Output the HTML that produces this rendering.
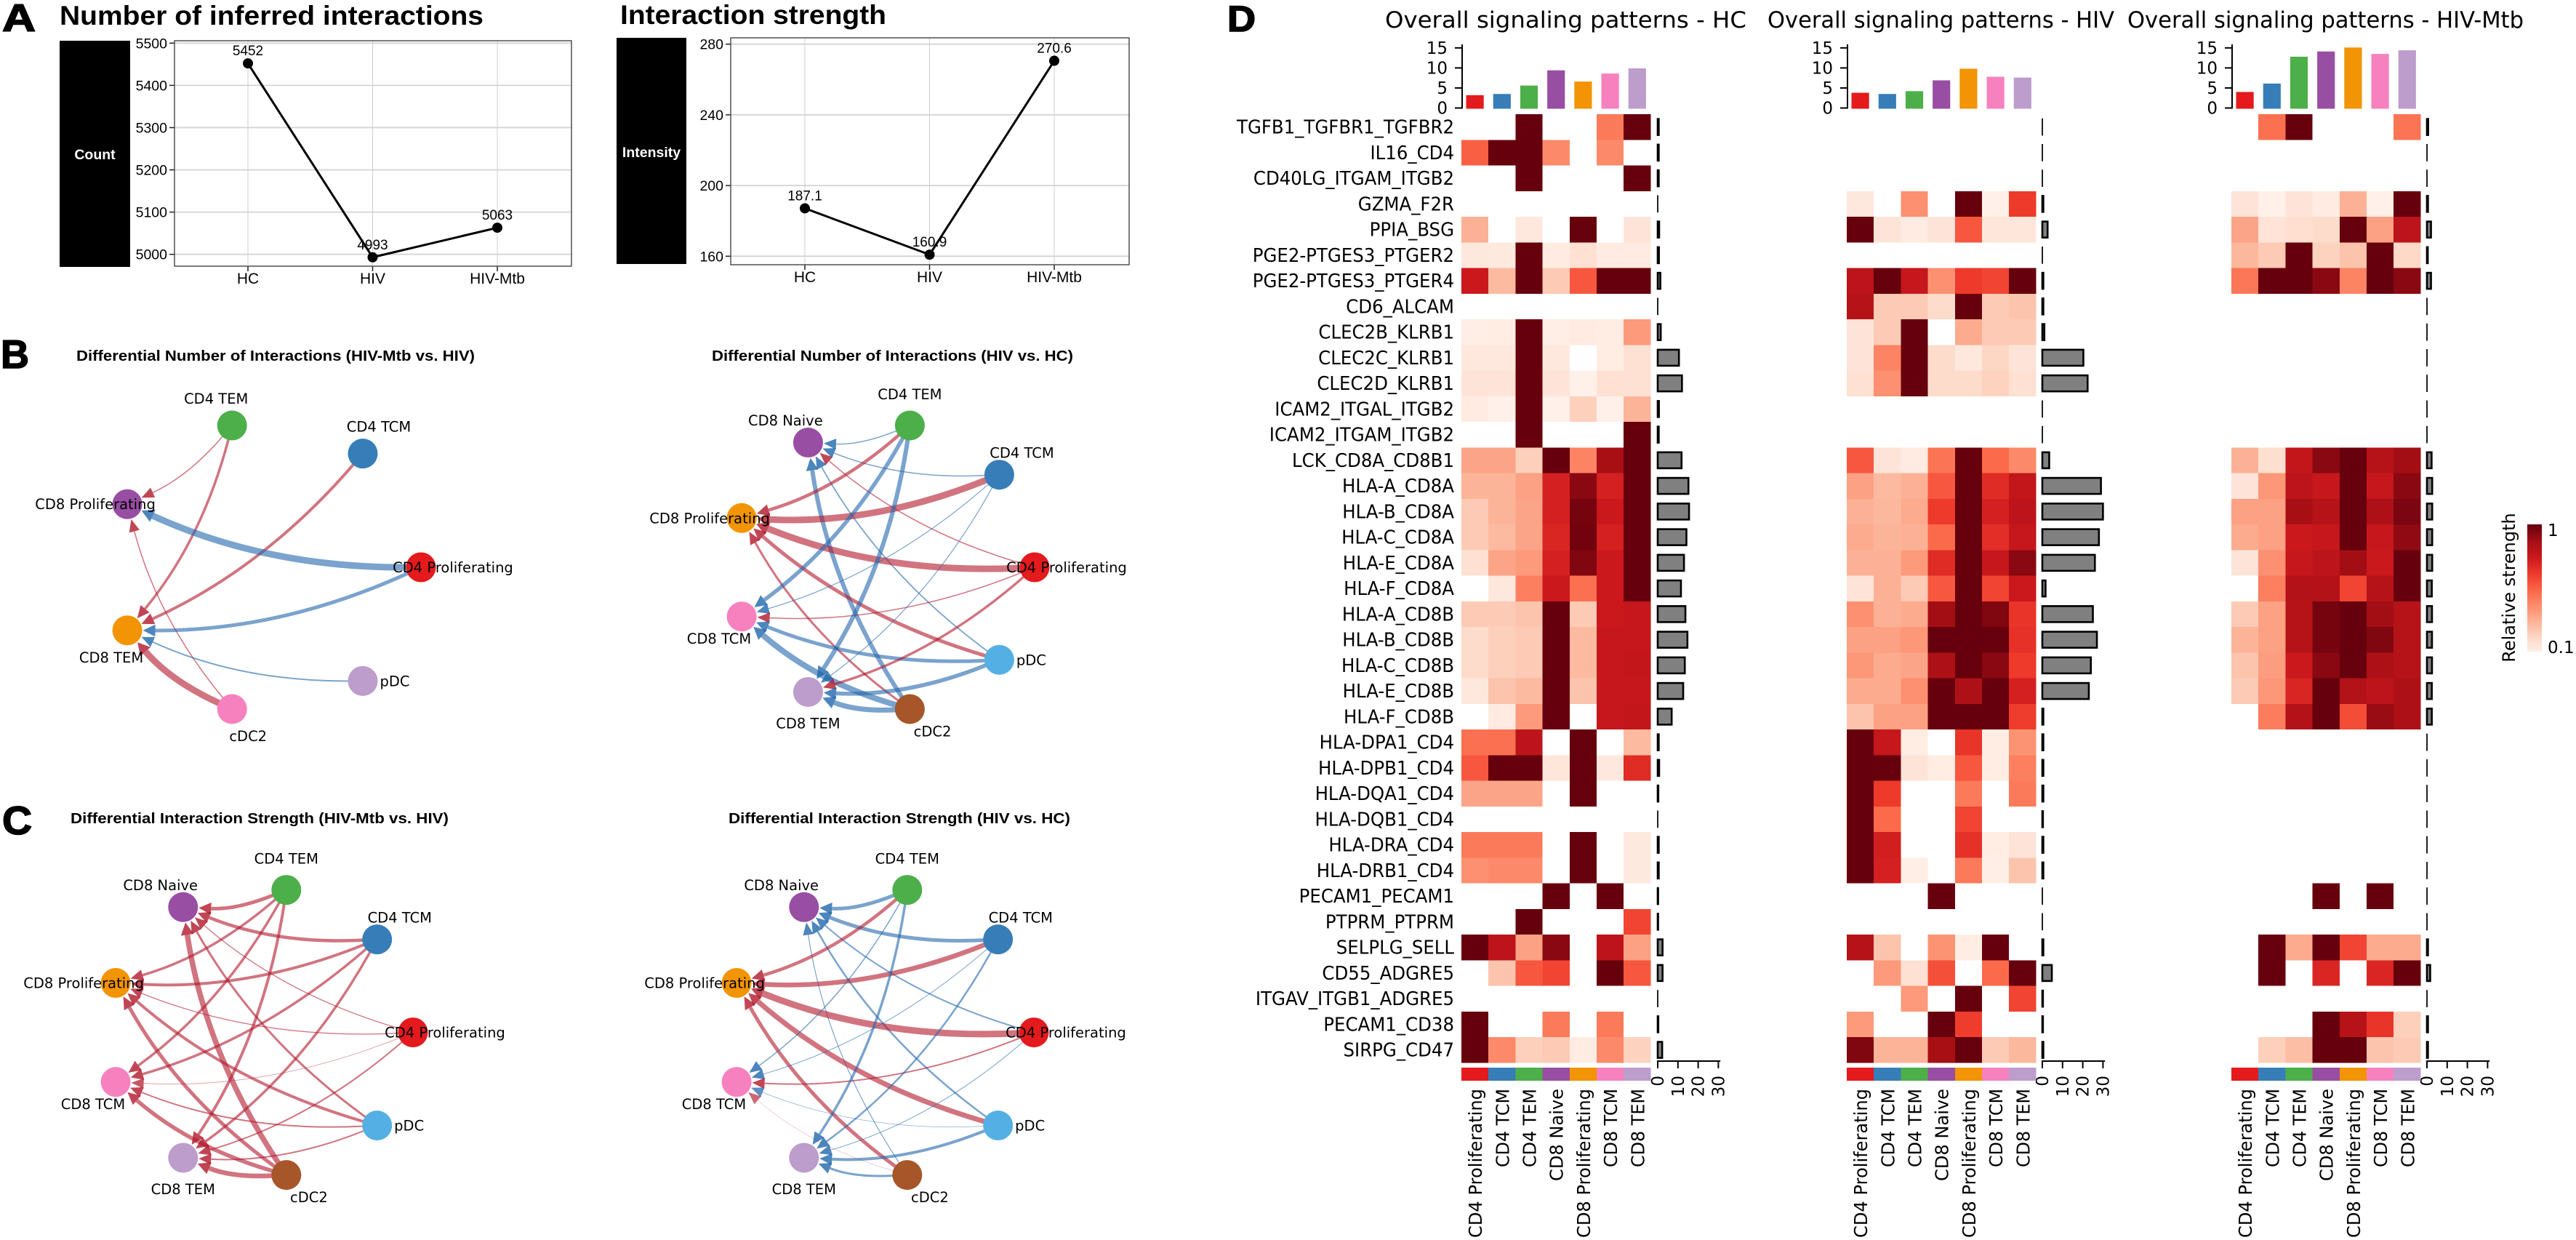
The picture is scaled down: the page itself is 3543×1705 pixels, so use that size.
<!DOCTYPE html>
<html lang="en">
<head>
<meta charset="utf-8">
<title>Cell-cell interaction figure</title>
<style>
html,body{margin:0;padding:0;background:#fff}
svg{display:block}
text{fill:#000}
.sans{font-family:"Liberation Sans",sans-serif}
.dv{font-family:"DejaVu Sans",sans-serif}
</style>
</head>
<body>
<svg id="fig" xmlns="http://www.w3.org/2000/svg" width="3543" height="1705" viewBox="0 0 3543 1705">
<defs><linearGradient id="cbGrad" x1="0" y1="1" x2="0" y2="0"></linearGradient></defs>
<rect x="0" y="0" width="3543" height="1705" fill="#fff"/>

<g class="sans" font-weight="bold">
<text x="3" y="43" font-size="53" stroke="#000" stroke-width="1.6" textLength="46" lengthAdjust="spacingAndGlyphs">A</text>
<text x="1" y="506" font-size="55" stroke="#000" stroke-width="1.6" textLength="39" lengthAdjust="spacingAndGlyphs">B</text>
<text x="3" y="1147" font-size="55" stroke="#000" stroke-width="1.6" textLength="41" lengthAdjust="spacingAndGlyphs">C</text>
<text x="1688" y="43" font-size="50" stroke="#000" stroke-width="1.6" textLength="39" lengthAdjust="spacingAndGlyphs">D</text>
</g>

<g class="sans" font-weight="bold">
<text x="82" y="34" font-size="37" textLength="583" lengthAdjust="spacingAndGlyphs">Number of inferred interactions</text>
<text x="853" y="33" font-size="37" textLength="366" lengthAdjust="spacingAndGlyphs">Interaction strength</text>
<text x="105" y="496" font-size="20.5" textLength="548" lengthAdjust="spacingAndGlyphs">Differential Number of Interactions (HIV-Mtb vs. HIV)</text>
<text x="979" y="496" font-size="20.5" textLength="497" lengthAdjust="spacingAndGlyphs">Differential Number of Interactions (HIV vs. HC)</text>
<text x="97" y="1132" font-size="20.5" textLength="520" lengthAdjust="spacingAndGlyphs">Differential Interaction Strength (HIV-Mtb vs. HIV)</text>
<text x="1002" y="1132" font-size="20.5" textLength="470" lengthAdjust="spacingAndGlyphs">Differential Interaction Strength (HIV vs. HC)</text>
</g>

<g class="dv">
<text x="1905" y="38" font-size="31" textLength="497" lengthAdjust="spacingAndGlyphs">Overall signaling patterns - HC</text>
<text x="2431" y="38" font-size="31" textLength="477" lengthAdjust="spacingAndGlyphs">Overall signaling patterns - HIV</text>
<text x="2926" y="38" font-size="31" textLength="545" lengthAdjust="spacingAndGlyphs">Overall signaling patterns - HIV-Mtb</text>
</g>

<g id="lineCharts" class="sans"></g>
<g id="networks" class="dv"></g>
<g id="heatmaps" class="dv"></g>

<g class="dv">
<rect x="3476" y="721" width="20" height="175" fill="url(#cbGrad)"/>
<text x="3504" y="737" font-size="23">1</text>
<text x="3504" y="898" font-size="23">0.1</text>
<text transform="translate(3459,808) rotate(-90)" text-anchor="middle" font-size="24">Relative strength</text>
</g>
</svg>

<script>
/* ---------- Panel A data ---------- */
const groups = ['HC', 'HIV', 'HIV-Mtb'];
const countValues = [5452, 4993, 5063];
const countLabels = ['5452', '4993', '5063'];
const countTicks = [5000, 5100, 5200, 5300, 5400, 5500];
const strengthValues = [187.1, 160.9, 270.6];
const strengthLabels = ['187.1', '160.9', '270.6'];
const strengthTicks = [160, 200, 240, 280];

/* ---------- Panel B / C data: [source, target, signed weight] (+ increased, - decreased) ---------- */
const bLeftNodes = ['CD4 Proliferating', 'CD4 TCM', 'CD4 TEM', 'CD8 Proliferating', 'CD8 TEM', 'cDC2', 'pDC'];
const bLeftEdges = [
  ['CD4 TEM', 'CD8 Proliferating', 1.5],
  ['CD4 TEM', 'CD8 TEM', 3.5],
  ['CD4 TCM', 'CD8 TEM', 4],
  ['cDC2', 'CD8 Proliferating', 1.5],
  ['pDC', 'CD8 TEM', -2],
  ['CD4 Proliferating', 'CD8 TEM', -5],
  ['CD4 Proliferating', 'CD8 Proliferating', -9],
  ['cDC2', 'CD8 TEM', 9]
];
const fullNodes = ['CD4 Proliferating', 'CD4 TCM', 'CD4 TEM', 'CD8 Naive', 'CD8 Proliferating', 'CD8 TCM', 'CD8 TEM', 'cDC2', 'pDC'];
const bRightEdges = [
  ['CD4 TEM', 'CD8 Naive', -1.5],
  ['CD4 TCM', 'CD8 Naive', -1.5],
  ['pDC', 'CD8 Naive', -1.8],
  ['cDC2', 'CD8 Naive', -6],
  ['CD4 Proliferating', 'CD8 Naive', 1.5],
  ['CD4 TEM', 'CD8 Proliferating', 4.5],
  ['CD4 TCM', 'CD8 Proliferating', 9],
  ['CD4 Proliferating', 'CD8 Proliferating', 9],
  ['pDC', 'CD8 Proliferating', 5],
  ['cDC2', 'CD8 Proliferating', 3],
  ['CD4 TEM', 'CD8 TCM', -5.5],
  ['CD4 TCM', 'CD8 TCM', -1.2],
  ['CD4 Proliferating', 'CD8 TCM', 1.5],
  ['pDC', 'CD8 TCM', -5],
  ['cDC2', 'CD8 TCM', -8],
  ['CD4 TEM', 'CD8 TEM', -6],
  ['CD4 TCM', 'CD8 TEM', -1.2],
  ['CD4 Proliferating', 'CD8 TEM', 3.5],
  ['pDC', 'CD8 TEM', -5.5],
  ['cDC2', 'CD8 TEM', -7]
];
const cLeftEdges = [
  ['CD4 TEM', 'CD8 Naive', 5],
  ['CD4 TCM', 'CD8 Naive', 4.5],
  ['CD4 Proliferating', 'CD8 Naive', 1.3],
  ['pDC', 'CD8 Naive', 3],
  ['cDC2', 'CD8 Naive', 7.5],
  ['CD4 TEM', 'CD8 Proliferating', 3.5],
  ['CD4 TCM', 'CD8 Proliferating', 4],
  ['CD4 Proliferating', 'CD8 Proliferating', 1.3],
  ['pDC', 'CD8 Proliferating', 4],
  ['cDC2', 'CD8 Proliferating', 5],
  ['CD4 TEM', 'CD8 TCM', 3.5],
  ['CD4 TCM', 'CD8 TCM', 3.5],
  ['CD4 Proliferating', 'CD8 TCM', 0.7],
  ['pDC', 'CD8 TCM', 2],
  ['cDC2', 'CD8 TCM', 5.5],
  ['CD4 TEM', 'CD8 TEM', 4],
  ['CD4 TCM', 'CD8 TEM', 3.5],
  ['CD4 Proliferating', 'CD8 TEM', 2],
  ['pDC', 'CD8 TEM', 2],
  ['cDC2', 'CD8 TEM', 6.5]
];
const cRightEdges = [
  ['CD4 TEM', 'CD8 Naive', -5],
  ['CD4 TCM', 'CD8 Naive', -5],
  ['CD4 Proliferating', 'CD8 Naive', -2],
  ['pDC', 'CD8 Naive', -2.5],
  ['cDC2', 'CD8 Naive', -1.2],
  ['CD4 TEM', 'CD8 Proliferating', 4.5],
  ['CD4 TCM', 'CD8 Proliferating', 6.5],
  ['CD4 Proliferating', 'CD8 Proliferating', 9],
  ['pDC', 'CD8 Proliferating', 7],
  ['cDC2', 'CD8 Proliferating', 5],
  ['CD4 TEM', 'CD8 TCM', -1.5],
  ['CD4 TCM', 'CD8 TCM', -1],
  ['CD4 Proliferating', 'CD8 TCM', 2],
  ['pDC', 'CD8 TCM', -0.7],
  ['cDC2', 'CD8 TCM', 0.5],
  ['CD4 TEM', 'CD8 TEM', -3.5],
  ['CD4 TCM', 'CD8 TEM', -2.5],
  ['CD4 Proliferating', 'CD8 TEM', -1],
  ['pDC', 'CD8 TEM', -4],
  ['cDC2', 'CD8 TEM', -3]
];

/* ---------- Panel D data ---------- */
const rowLabels = ['TGFB1_TGFBR1_TGFBR2','IL16_CD4','CD40LG_ITGAM_ITGB2','GZMA_F2R','PPIA_BSG','PGE2-PTGES3_PTGER2','PGE2-PTGES3_PTGER4','CD6_ALCAM','CLEC2B_KLRB1','CLEC2C_KLRB1','CLEC2D_KLRB1','ICAM2_ITGAL_ITGB2','ICAM2_ITGAM_ITGB2','LCK_CD8A_CD8B1','HLA-A_CD8A','HLA-B_CD8A','HLA-C_CD8A','HLA-E_CD8A','HLA-F_CD8A','HLA-A_CD8B','HLA-B_CD8B','HLA-C_CD8B','HLA-E_CD8B','HLA-F_CD8B','HLA-DPA1_CD4','HLA-DPB1_CD4','HLA-DQA1_CD4','HLA-DQB1_CD4','HLA-DRA_CD4','HLA-DRB1_CD4','PECAM1_PECAM1','PTPRM_PTPRM','SELPLG_SELL','CD55_ADGRE5','ITGAV_ITGB1_ADGRE5','PECAM1_CD38','SIRPG_CD47'];
const cellTypes = ['CD4 Proliferating','CD4 TCM','CD4 TEM','CD8 Naive','CD8 Proliferating','CD8 TCM','CD8 TEM'];
const topTicks = [0, 5, 10, 15];
const barTicks = [0, 10, 20, 30];
const hcTopBars = [3.2, 3.5, 5.6, 9.4, 6.6, 8.6, 9.9];
const hivTopBars = [3.8, 3.5, 4.2, 6.9, 9.8, 7.8, 7.6];
const mtbTopBars = [4, 6.1, 12.8, 14.1, 15.1, 13.5, 14.4];
const hcRowBars = [.5,.5,.5,0,.7,.6,1.3,0,1.5,10.5,12,.6,.5,11.8,15.2,15.5,14.2,13,11.5,13.7,14.7,13.4,12.6,6.9,.5,.7,.3,0,.5,.5,.2,.2,2.4,2.4,0,.3,2.2];
const hivRowBars = [0,0,0,.5,2.6,0,.5,.5,1,20.3,22.4,0,0,3.4,29,30,28,26,1.6,25,27,24,23,.5,.5,.5,.5,.3,.5,.5,0,0,.5,4.7,.3,.3,.5];
const mtbRowBars = [.6,0,0,.5,2,.4,2,0,0,0,0,0,0,2.3,2.6,2.6,2.6,2.6,2.4,2.5,2.5,2.5,2.4,2.4,0,0,0,0,0,0,0,0,.5,1.6,0,.5,.5];
const hcCells = [
[0,0,1,0,0,.45,1],
[.53,1,1,.4,0,.4,0],
[0,0,1,0,0,0,1],
[0,0,0,0,0,0,0],
[.28,0,.08,0,1,0,.1],
[.08,.07,1,.06,.12,.06,.06],
[.75,.25,1,.2,.55,1,1],
[0,0,0,0,0,0,0],
[.04,.05,1,.04,.06,.05,.35],
[.08,.08,1,.08,0,.05,.12],
[.1,.1,1,.1,.03,.12,.12],
[.06,.03,1,.03,.18,.03,.27],
[0,0,1,0,0,0,1],
[.32,.32,.18,1,.42,.87,1],
[.27,.27,.33,.72,.93,.72,1],
[.2,.27,.32,.72,.97,.75,1],
[.2,.25,.32,.7,.98,.72,1],
[.12,.32,.35,.72,.95,.75,1],
[0,.08,.43,.75,.48,.75,1],
[.2,.2,.22,1,.2,.75,.77],
[.14,.18,.2,1,.25,.77,.77],
[.14,.18,.2,1,.25,.77,.78],
[.08,.22,.25,1,.22,.77,.77],
[0,.06,.35,1,0,.77,.78],
[.48,.48,.8,0,1,0,.25],
[.55,1,1,.09,1,.08,.68],
[.32,.32,.32,0,1,0,0],
[0,0,0,0,0,0,0],
[.45,.45,.45,0,1,0,.07],
[.38,.4,.4,0,1,0,.07],
[0,0,0,1,0,1,0],
[0,0,1,0,0,0,.6],
[1,.8,.33,.93,0,.8,.33],
[0,.22,.55,.6,0,1,.55],
[0,0,0,0,0,0,0],
[1,0,0,.45,0,.45,0],
[1,.4,.18,.2,.05,.4,.17]
];
const hivCells = [
[0,0,0,0,0,0,0],
[0,0,0,0,0,0,0],
[0,0,0,0,0,0,0],
[.08,0,.38,0,1,.03,.63],
[1,.1,.06,.1,.55,.09,.09],
[0,0,0,0,0,0,0],
[.8,1,.77,.38,.63,.6,1],
[.82,.2,.2,.14,1,.2,.22],
[.1,.2,1,0,.3,.2,.2],
[.1,.42,1,.14,.08,.16,.1],
[.12,.38,1,.14,.14,.17,.12],
[0,0,0,0,0,0,0],
[0,0,0,0,0,0,0],
[.55,.1,.06,.47,1,.5,.4],
[.33,.25,.28,.55,1,.68,.78],
[.28,.26,.3,.63,1,.72,.8],
[.3,.27,.28,.5,1,.67,.77],
[.28,.28,.35,.68,1,.77,.93],
[.1,.28,.2,.55,1,.6,.75],
[.38,.28,.3,.88,1,.95,.65],
[.33,.33,.36,1,1,1,.66],
[.36,.3,.32,.85,1,.93,.63],
[.3,.3,.38,1,.85,1,.72],
[.22,.33,.33,1,1,1,.62],
[1,.77,.05,0,.65,.05,.37],
[1,1,.1,.05,.55,.05,.43],
[1,.63,0,0,.45,0,.45],
[1,.5,0,0,.6,0,0],
[1,.73,0,0,.66,.05,.1],
[1,.72,.04,0,.45,.04,.22],
[0,0,0,1,0,0,0],
[0,0,0,0,0,0,0],
[.82,.22,0,.37,.05,1,0],
[0,.35,.12,.57,0,.5,1],
[0,0,.35,0,1,0,.6],
[.35,0,0,1,.62,0,0],
[.95,.27,.27,.87,1,.2,.26]
];
const mtbCells = [
[0,.48,1,0,0,0,.47],
[0,0,0,0,0,0,0],
[0,0,0,0,0,0,0],
[.1,.03,.1,.06,.28,.03,1],
[.32,.11,.13,.14,1,.33,.8],
[.26,.2,1,.17,.22,1,.15],
[.46,1,1,.93,.42,1,.93],
[0,0,0,0,0,0,0],
[0,0,0,0,0,0,0],
[0,0,0,0,0,0,0],
[0,0,0,0,0,0,0],
[0,0,0,0,0,0,0],
[0,0,0,0,0,0,0],
[.28,.13,.78,.93,1,.82,.88],
[.1,.36,.8,.77,1,.77,.93],
[.33,.33,.87,.82,1,.85,.96],
[.3,.33,.75,.77,1,.77,.92],
[.1,.38,.77,.8,.88,.75,1],
[0,.43,.83,.83,.6,.82,1],
[.2,.33,.82,.97,1,.88,.82],
[.27,.33,.82,.97,1,.95,.82],
[.22,.34,.75,.93,1,.85,.82],
[.2,.36,.7,1,.83,.8,.85],
[0,.44,.83,1,.58,.9,.85],
[0,0,0,0,0,0,0],
[0,0,0,0,0,0,0],
[0,0,0,0,0,0,0],
[0,0,0,0,0,0,0],
[0,0,0,0,0,0,0],
[0,0,0,0,0,0,0],
[0,0,0,1,0,1,0],
[0,0,0,0,0,0,0],
[0,1,.3,1,.6,.3,.3],
[0,1,0,.7,0,.7,1],
[0,0,0,0,0,0,0],
[0,0,0,1,.82,.65,.18],
[0,.18,.24,1,1,.22,.2]
];

/* ---------- Helpers ---------- */
const NS = 'http://www.w3.org/2000/svg';
function make(tag, attrs, parent, txt) {
  const e = document.createElementNS(NS, tag);
  for (const k in attrs) e.setAttribute(k, attrs[k]);
  if (txt !== undefined) e.textContent = txt;
  parent.appendChild(e);
  return e;
}
function slug(s) { return String(s).toLowerCase().replace(/[^a-z0-9]+/g, '-'); }

/* ---------- Line charts ---------- */
function drawLineChart(cfg) {
  const root = document.getElementById('lineCharts');
  const g = make('g', {}, root);
  
  
  const xScale = i => cfg.x0 + i * cfg.dx;
  const yScale = v => cfg.yRef - (v - cfg.vRef) * cfg.k;

  const strip = make('rect', {x: cfg.sx, y: cfg.sy, width: cfg.sw, height: cfg.sh, fill: '#000'}, g);
  
  
  const yt = make('text', {x: cfg.sx + cfg.sw / 2, y: cfg.tcy + 7, 'text-anchor': 'middle', 'font-size': 19.5, 'font-weight': 'bold', style: 'fill:#fff'}, g, cfg.yTitle);
  
  

  const frame = make('rect', {x: cfg.left, y: cfg.top, width: cfg.right - cfg.left, height: cfg.bottom - cfg.top, fill: '#fff'}, g);
  
  

  cfg.ticks.forEach(t => {
    const y = yScale(t);
    const gl = make('line', {x1: cfg.left, x2: cfg.right, y1: y, y2: y, stroke: '#d4d4d4', 'stroke-width': 1.8}, g);
    
    
    const tk = make('line', {x1: cfg.left - 7, x2: cfg.left, y1: y, y2: y, stroke: '#222', 'stroke-width': 1.5}, g);
    
    
    const lb = make('text', {x: cfg.left - 10, y: y + 7, 'text-anchor': 'end', 'font-size': 19.5}, g, String(t));
    
    
  });
  groups.forEach((name, i) => {
    const x = xScale(i);
    const gl = make('line', {x1: x, x2: x, y1: cfg.top, y2: cfg.bottom, stroke: '#cfcfcf', 'stroke-width': 1}, g);
    
    
    const tk = make('line', {x1: x, x2: x, y1: cfg.bottom, y2: cfg.bottom + 7, stroke: '#222', 'stroke-width': 1.5}, g);
    
    
    const lb = make('text', {x: x, y: cfg.bottom + 24, 'text-anchor': 'middle', 'font-size': 21}, g, name);
    
    
  });
  const border = make('rect', {x: cfg.left, y: cfg.top, width: cfg.right - cfg.left, height: cfg.bottom - cfg.top, fill: 'none', stroke: '#444', 'stroke-width': 1.4}, g);
  
  

  const pts = cfg.values.map((v, i) => xScale(i) + ',' + yScale(v)).join(' ');
  const line = make('polyline', {points: pts, fill: 'none', stroke: '#000', 'stroke-width': 3}, g);
  
  
  cfg.values.forEach((v, i) => {
    const c = make('circle', {cx: xScale(i), cy: yScale(v), r: 7, fill: '#000'}, g);
    
    
    const t = make('text', {x: xScale(i), y: yScale(v) - 11, 'text-anchor': 'middle', 'font-size': 19}, g, cfg.labels[i]);
    
    
  });
}
drawLineChart({id: 'count', yTitle: 'Count', sx: 82, sy: 56, sw: 97, sh: 311, tcy: 212, left: 240, right: 786, top: 56, bottom: 366, x0: 341, dx: 171.5, yRef: 349.7, vRef: 5000, k: 0.5808, ticks: countTicks, values: countValues, labels: countLabels});
drawLineChart({id: 'strength', yTitle: 'Intensity', sx: 848, sy: 52, sw: 96, sh: 311, tcy: 209, left: 1005, right: 1553, top: 52, bottom: 364, x0: 1107, dx: 171.5, yRef: 352.3, vRef: 160, k: 2.43, ticks: strengthTicks, values: strengthValues, labels: strengthLabels});

/* ---------- Networks ---------- */
const fullColors = {'CD4 Proliferating':'#E41A1C','CD4 TCM':'#377EB8','CD4 TEM':'#4DAF4A','CD8 Naive':'#984EA3','CD8 Proliferating':'#F29403','CD8 TCM':'#F781BF','CD8 TEM':'#BC9DCC','cDC2':'#A65628','pDC':'#54B0E4'};
const reducedColors = {'CD4 Proliferating':'#E41A1C','CD4 TCM':'#377EB8','CD4 TEM':'#4DAF4A','CD8 Proliferating':'#984EA3','CD8 TEM':'#F29403','cDC2':'#F781BF','pDC':'#BC9DCC'};
const fullLabelDirs = {'CD4 Proliferating':0,'CD4 TCM':45,'CD4 TEM':90,'CD8 Naive':135,'CD8 Proliferating':180,'CD8 TCM':225,'CD8 TEM':270,'cDC2':315,'pDC':0};
const reducedLabelDirs = {'CD4 Proliferating':0,'CD4 TCM':60,'CD4 TEM':120,'CD8 Proliferating':180,'CD8 TEM':240,'cDC2':300,'pDC':0};

function drawNetwork(cfg) {
  const root = document.getElementById('networks');
  const g = make('g', {}, root);
  
  
  const R = 20.5;
  const n = cfg.nodes.length;
  const pos = {};
  cfg.nodes.forEach((name, i) => {
    const th = i * 2 * Math.PI / n;
    pos[name] = {x: cfg.cx + cfg.rx * Math.cos(th), y: cfg.cy - cfg.ry * Math.sin(th)};
  });
  cfg.edges.forEach(edge => {
    const p0 = pos[edge[0]], p1 = pos[edge[1]], w = Math.abs(edge[2]);
    const col = edge[2] > 0 ? '#b2182b' : '#2166ac';
    const alpha = w < 1 ? 0.25 + w * 0.4 : 0.6;
    const dx = p1.x - p0.x, dy = p1.y - p0.y, L = Math.hypot(dx, dy);
    const cxp = (p0.x + p1.x) / 2 + (dy / L) * 0.11 * L;
    const cyp = (p0.y + p1.y) / 2 + (-dx / L) * 0.11 * L;
    const u0x = cxp - p0.x, u0y = cyp - p0.y, u0 = Math.hypot(u0x, u0y);
    const u1x = cxp - p1.x, u1y = cyp - p1.y, u1 = Math.hypot(u1x, u1y);
    const sx = p0.x + u0x / u0 * (R - 2), sy = p0.y + u0y / u0 * (R - 2);
    const tx = p1.x + u1x / u1 * (R + 1), ty = p1.y + u1y / u1 * (R + 1);
    const al = 17, hw = 7 + w * 0.25;
    const bx = tx + u1x / u1 * al, by = ty + u1y / u1 * al;
    const path = make('path', {d: 'M' + sx + ' ' + sy + ' Q' + cxp + ' ' + cyp + ' ' + bx + ' ' + by, fill: 'none', stroke: col, 'stroke-width': w, 'stroke-opacity': alpha}, g);
    
    
    const px = -u1y / u1, py = u1x / u1;
    const head = make('polygon', {points: tx + ',' + ty + ' ' + (bx + px * hw) + ',' + (by + py * hw) + ' ' + (bx - px * hw) + ',' + (by - py * hw), fill: col, 'fill-opacity': Math.min(alpha + 0.2, 0.85)}, g);
    
    
  });
  cfg.nodes.forEach(name => {
    const c = make('circle', {cx: pos[name].x, cy: pos[name].y, r: R, fill: cfg.colors[name]}, g);
    
    
  });
  cfg.nodes.forEach(name => {
    const a = cfg.dirs[name] * Math.PI / 180;
    const x = pos[name].x + 44 * Math.cos(a), y = pos[name].y - 43 * Math.sin(a);
    const t = make('text', {x: x, y: y + 7, 'text-anchor': 'middle', 'font-size': 19.5}, g, name);
    
    
  });
}
drawNetwork({id: 'b-left', nodes: bLeftNodes, colors: reducedColors, dirs: reducedLabelDirs, edges: bLeftEdges, cx: 366.5, cy: 780, rx: 212.5, ry: 200});
drawNetwork({id: 'b-right', nodes: fullNodes, colors: fullColors, dirs: fullLabelDirs, edges: bRightEdges, cx: 1215.3, cy: 780, rx: 207.7, ry: 198});
drawNetwork({id: 'c-left', nodes: fullNodes, colors: fullColors, dirs: fullLabelDirs, edges: cLeftEdges, cx: 357.2, cy: 1419.6, rx: 210.8, ry: 199});
drawNetwork({id: 'c-right', nodes: fullNodes, colors: fullColors, dirs: fullLabelDirs, edges: cRightEdges, cx: 1211.2, cy: 1419.6, rx: 210.8, ry: 199});

/* ---------- Heatmaps ---------- */
const redsRamp = [[255,245,240],[254,224,210],[252,187,161],[252,146,114],[251,106,74],[239,59,44],[203,24,29],[165,15,21],[103,0,13]];
function reds(t) {
  const p = Math.max(0, Math.min(1, t)) * (redsRamp.length - 1);
  const i = Math.min(Math.floor(p), redsRamp.length - 2), f = p - i;
  const c = redsRamp[i].map((v, k) => Math.round(v + (redsRamp[i + 1][k] - v) * f));
  return 'rgb(' + c.join(',') + ')';
}
const cellColors = ['#E41A1C', '#377EB8', '#4DAF4A', '#984EA3', '#F29403', '#F781BF', '#BC9DCC'];
const COL_W = 37.2, ROW_H = 35.25, HEAT_TOP = 157;
const yRow = j => HEAT_TOP + j * ROW_H;
const yTop = v => 148.5 - 5.51 * v;
const UNIT = 2.78;
function xLabelLength(name) {
  if (name.indexOf('Proliferating') >= 0) return 205;
  if (name.indexOf('Naive') >= 0) return 127;
  return 108;
}

function drawHeatmap(cfg) {
  const root = document.getElementById('heatmaps');
  const g = make('g', {}, root);
  
  
  const xCol = i => cfg.left + i * COL_W;
  const xBar = v => cfg.barZero + v * UNIT;

  cfg.cells.forEach((row, j) => {
    row.forEach((v, i) => {
      if (v <= 0) return;
      const r = make('rect', {x: xCol(i), y: yRow(j), width: COL_W, height: ROW_H, fill: reds(v), 'shape-rendering': 'crispEdges'}, g);
      
      
    });
  });

  cfg.top.forEach((v, i) => {
    const y = yTop(v);
    const r = make('rect', {x: xCol(i) + COL_W * 0.175, y: y, width: COL_W * 0.65, height: yTop(0) - y + 1, fill: cellColors[i]}, g);
    
    
  });
  const ax = make('line', {x1: cfg.left + 1, x2: cfg.left + 1, y1: 61, y2: yTop(0) + 1, stroke: '#000', 'stroke-width': 2}, g);
  
  
  topTicks.forEach(t => {
    const tk = make('line', {x1: cfg.left - 9, x2: cfg.left + 1, y1: yTop(t), y2: yTop(t), stroke: '#000', 'stroke-width': 2}, g);
    
    
    const lb = make('text', {x: cfg.left - 19, y: yTop(t) + 8, 'text-anchor': 'end', 'font-size': 23}, g, String(t));
    
    
  });

  cfg.bars.forEach((v, j) => {
    const r = make('rect', {x: xBar(0), y: yRow(j) + ROW_H / 2 - 11, width: Math.max(v * UNIT, 0.05), height: 22, fill: '#808080', stroke: '#000', 'stroke-width': v === 0 ? 1.7 : 2.6}, g);
    
    
  });
  const bax = make('line', {x1: xBar(0) - 1, x2: xBar(31), y1: 1459, y2: 1459, stroke: '#000', 'stroke-width': 2}, g);
  
  
  barTicks.forEach(t => {
    const tk = make('line', {x1: xBar(t), x2: xBar(t), y1: 1459, y2: 1469, stroke: '#000', 'stroke-width': 2}, g);
    
    
    const lb = make('text', {transform: 'translate(' + (xBar(t) + 8) + ',1479) rotate(-90)', 'text-anchor': 'end', 'font-size': 23}, g, String(t));
    
    
  });

  cellTypes.forEach((name, i) => {
    const r = make('rect', {x: xCol(i), y: 1468, width: COL_W, height: 18, fill: cellColors[i], 'shape-rendering': 'crispEdges'}, g);
    
    
    const t = make('text', {transform: 'translate(' + (xCol(i) + COL_W / 2 + 9.5) + ',1497) rotate(-90)', 'text-anchor': 'end', 'font-size': 25, textLength: xLabelLength(name), lengthAdjust: 'spacingAndGlyphs'}, g, name);
    
    
  });

  if (cfg.rowNames) {
    rowLabels.forEach((name, j) => {
      const t = make('text', {transform: 'translate(2000,' + (yRow(j) + ROW_H / 2 + 9) + ') scale(0.94,1)', 'text-anchor': 'end', 'font-size': 26}, g, name);
      
      
    });
  }
}
drawHeatmap({id: 'hc', left: 2010, barZero: 2280, cells: hcCells, top: hcTopBars, bars: hcRowBars, rowNames: true});
drawHeatmap({id: 'hiv', left: 2540, barZero: 2809, cells: hivCells, top: hivTopBars, bars: hivRowBars, rowNames: false});
drawHeatmap({id: 'hiv-mtb', left: 3069, barZero: 3338, cells: mtbCells, top: mtbTopBars, bars: mtbRowBars, rowNames: false});

/* ---------- Colorbar gradient ---------- */
const grad = document.getElementById('cbGrad');
for (let i = 0; i <= 16; i++) {
  const t = 0.05 + 0.95 * i / 16;
  make('stop', {offset: (i / 16), 'stop-color': reds(t)}, grad);
}
</script>
</body>
</html>
